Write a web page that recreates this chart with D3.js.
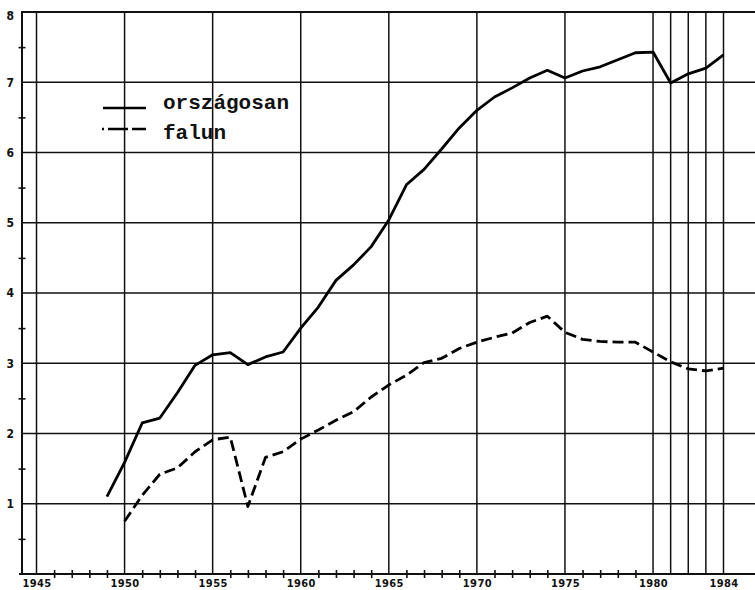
<!DOCTYPE html>
<html>
<head>
<meta charset="utf-8">
<script src="https://cdn.jsdelivr.net/npm/d3@7"></script>
<style>
  html, body { margin: 0; padding: 0; background: #fff; }
  svg { display: block; }
  .tick-label { font-family: "Liberation Sans Narrow", "DejaVu Sans Condensed", sans-serif; font-weight: bold; font-size: 12px; fill: #111; }
  .xtick-label { font-family: "Liberation Sans Narrow", "DejaVu Sans Condensed", sans-serif; font-weight: bold; font-size: 11px; fill: #111; }
  .legend-text { font-family: "Liberation Mono", "DejaVu Sans Mono", monospace; font-weight: bold; font-size: 21px; fill: #111; }
</style>
</head>
<body>
<svg id="chart" width="755" height="590"></svg>
<script>
// ---- data ----
const orszYears = [1949,1950,1951,1952,1953,1954,1955,1956,1957,1958,1959,1960,1961,1962,1963,1964,1965,1966,1967,1968,1969,1970,1971,1972,1973,1974,1975,1976,1977,1978,1979,1980,1981,1982,1983,1984];
const orszValues = [1.10,1.59,2.15,2.22,2.58,2.97,3.12,3.15,2.98,3.09,3.16,3.50,3.80,4.18,4.40,4.66,5.04,5.54,5.76,6.05,6.35,6.60,6.79,6.92,7.06,7.17,7.06,7.16,7.22,7.32,7.42,7.43,6.99,7.12,7.20,7.39];
const falunYears = [1950,1951,1952,1953,1954,1955,1956,1957,1958,1959,1960,1961,1962,1963,1964,1965,1966,1967,1968,1969,1970,1971,1972,1973,1974,1975,1976,1977,1978,1979,1980,1981,1982,1983,1984];
const falunValues = [0.75,1.12,1.42,1.51,1.74,1.91,1.95,0.96,1.66,1.74,1.92,2.05,2.19,2.31,2.52,2.69,2.83,3.01,3.07,3.21,3.30,3.37,3.43,3.58,3.67,3.44,3.34,3.31,3.30,3.30,3.16,3.02,2.92,2.89,2.93];
const gridYears = [1945,1950,1955,1960,1965,1970,1975,1980,1981,1982,1983,1984];
const labelYears = [1945,1950,1955,1960,1965,1970,1975,1980,1984];
const minorYears = d3.range(1946, 1980).filter(y => y % 5 !== 0);
const yGrid = [1,2,3,4,5,6,7,8];
const yLabels = [1,2,3,4,5,6,7,8];
const yMinor = [0.5,1.5,2.5,3.5,4.5,5.5,6.5,7.5];
const seriesNames = ["országosan", "falun"];

// ---- scales ----
const x = d3.scaleLinear().domain([1945, 1984]).range([36.5, 723.5]);
const y = d3.scaleLinear().domain([0, 8]).range([574, 12]);
const axisX = 22, rightX = 755;

const svg = d3.select("#chart");

// horizontal grid lines
svg.append("g").selectAll("line").data(yGrid).join("line")
  .attr("x1", axisX).attr("x2", rightX)
  .attr("y1", d => y(d)).attr("y2", d => y(d))
  .attr("stroke", "#111").attr("stroke-width", d => d === 8 ? 1.8 : 1.3);

// vertical grid lines
svg.append("g").selectAll("line").data(gridYears).join("line")
  .attr("x1", d => x(d)).attr("x2", d => x(d))
  .attr("y1", y(0)).attr("y2", y(8))
  .attr("stroke", "#111").attr("stroke-width", 1.5);

// x axis
const xAxis = d3.axisBottom(x).tickValues(labelYears).tickSize(0).tickPadding(5).tickFormat(d3.format("d"));
const gx = svg.append("g").attr("transform", `translate(0,${y(0)})`).call(xAxis);
gx.select(".domain").remove();
gx.selectAll("text").attr("class", "xtick-label").attr("font-family", null).attr("font-size", null).attr("fill", null)
  .attr("letter-spacing", "0.4px").attr("y", 13).attr("dy", null);
svg.append("line").attr("x1", axisX - 3).attr("x2", rightX).attr("y1", y(0)).attr("y2", y(0))
  .attr("stroke", "#111").attr("stroke-width", 2);
// minor year ticks
const xMinorAxis = d3.axisBottom(x).tickValues(minorYears).tickSize(8).tickFormat("");
const gxm = svg.append("g").attr("transform", `translate(0,${y(0) - 4})`).call(xMinorAxis);
gxm.select(".domain").remove();
gxm.selectAll("line").attr("stroke", "#111").attr("stroke-width", 1.6);

// y axis
const yAxis = d3.axisLeft(y).tickValues(yLabels).tickSize(0).tickPadding(8).tickFormat(d3.format("d"));
const gy = svg.append("g").attr("transform", `translate(${axisX},0)`).call(yAxis);
gy.select(".domain").remove();
gy.selectAll("text").attr("class", "tick-label").attr("font-family", null).attr("font-size", null).attr("fill", null)
  .attr("dy", d => d === 8 ? "0.65em" : "0.32em");
svg.append("line").attr("x1", axisX).attr("x2", axisX).attr("y1", y(8) - 1).attr("y2", y(0) + 1)
  .attr("stroke", "#111").attr("stroke-width", 2);
const yMinorAxis = d3.axisLeft(y).tickValues(yMinor).tickSize(7).tickFormat("");
const gym = svg.append("g").attr("transform", `translate(${axisX + 3.5},0)`).call(yMinorAxis);
gym.select(".domain").remove();
gym.selectAll("line").attr("stroke", "#111").attr("stroke-width", 1.6);

// lines
const line = d3.line().x(d => x(d[0])).y(d => y(d[1]));
svg.append("path").datum(orszYears.map((yr, i) => [yr, orszValues[i]]))
  .attr("d", line).attr("fill", "none").attr("stroke", "#000").attr("stroke-width", 2.8)
  .attr("stroke-linejoin", "round");
svg.append("path").datum(falunYears.map((yr, i) => [yr, falunValues[i]]))
  .attr("d", line).attr("fill", "none").attr("stroke", "#000").attr("stroke-width", 2.8)
  .attr("stroke-dasharray", "11,5").attr("stroke-linejoin", "round");

// legend
const lg = svg.append("g");
lg.append("line").attr("x1", 103).attr("x2", 146).attr("y1", 108).attr("y2", 108)
  .attr("stroke", "#000").attr("stroke-width", 2.4);
lg.append("line").attr("x1", 102).attr("x2", 146).attr("y1", 129).attr("y2", 129)
  .attr("stroke", "#000").attr("stroke-width", 2.4).attr("stroke-dasharray", "2,4,20,4,14");
lg.append("text").attr("class", "legend-text").attr("x", 163).attr("y", 109).text(seriesNames[0]);
lg.append("text").attr("class", "legend-text").attr("x", 163).attr("y", 139).text(seriesNames[1]);
</script>
</body>
</html>
